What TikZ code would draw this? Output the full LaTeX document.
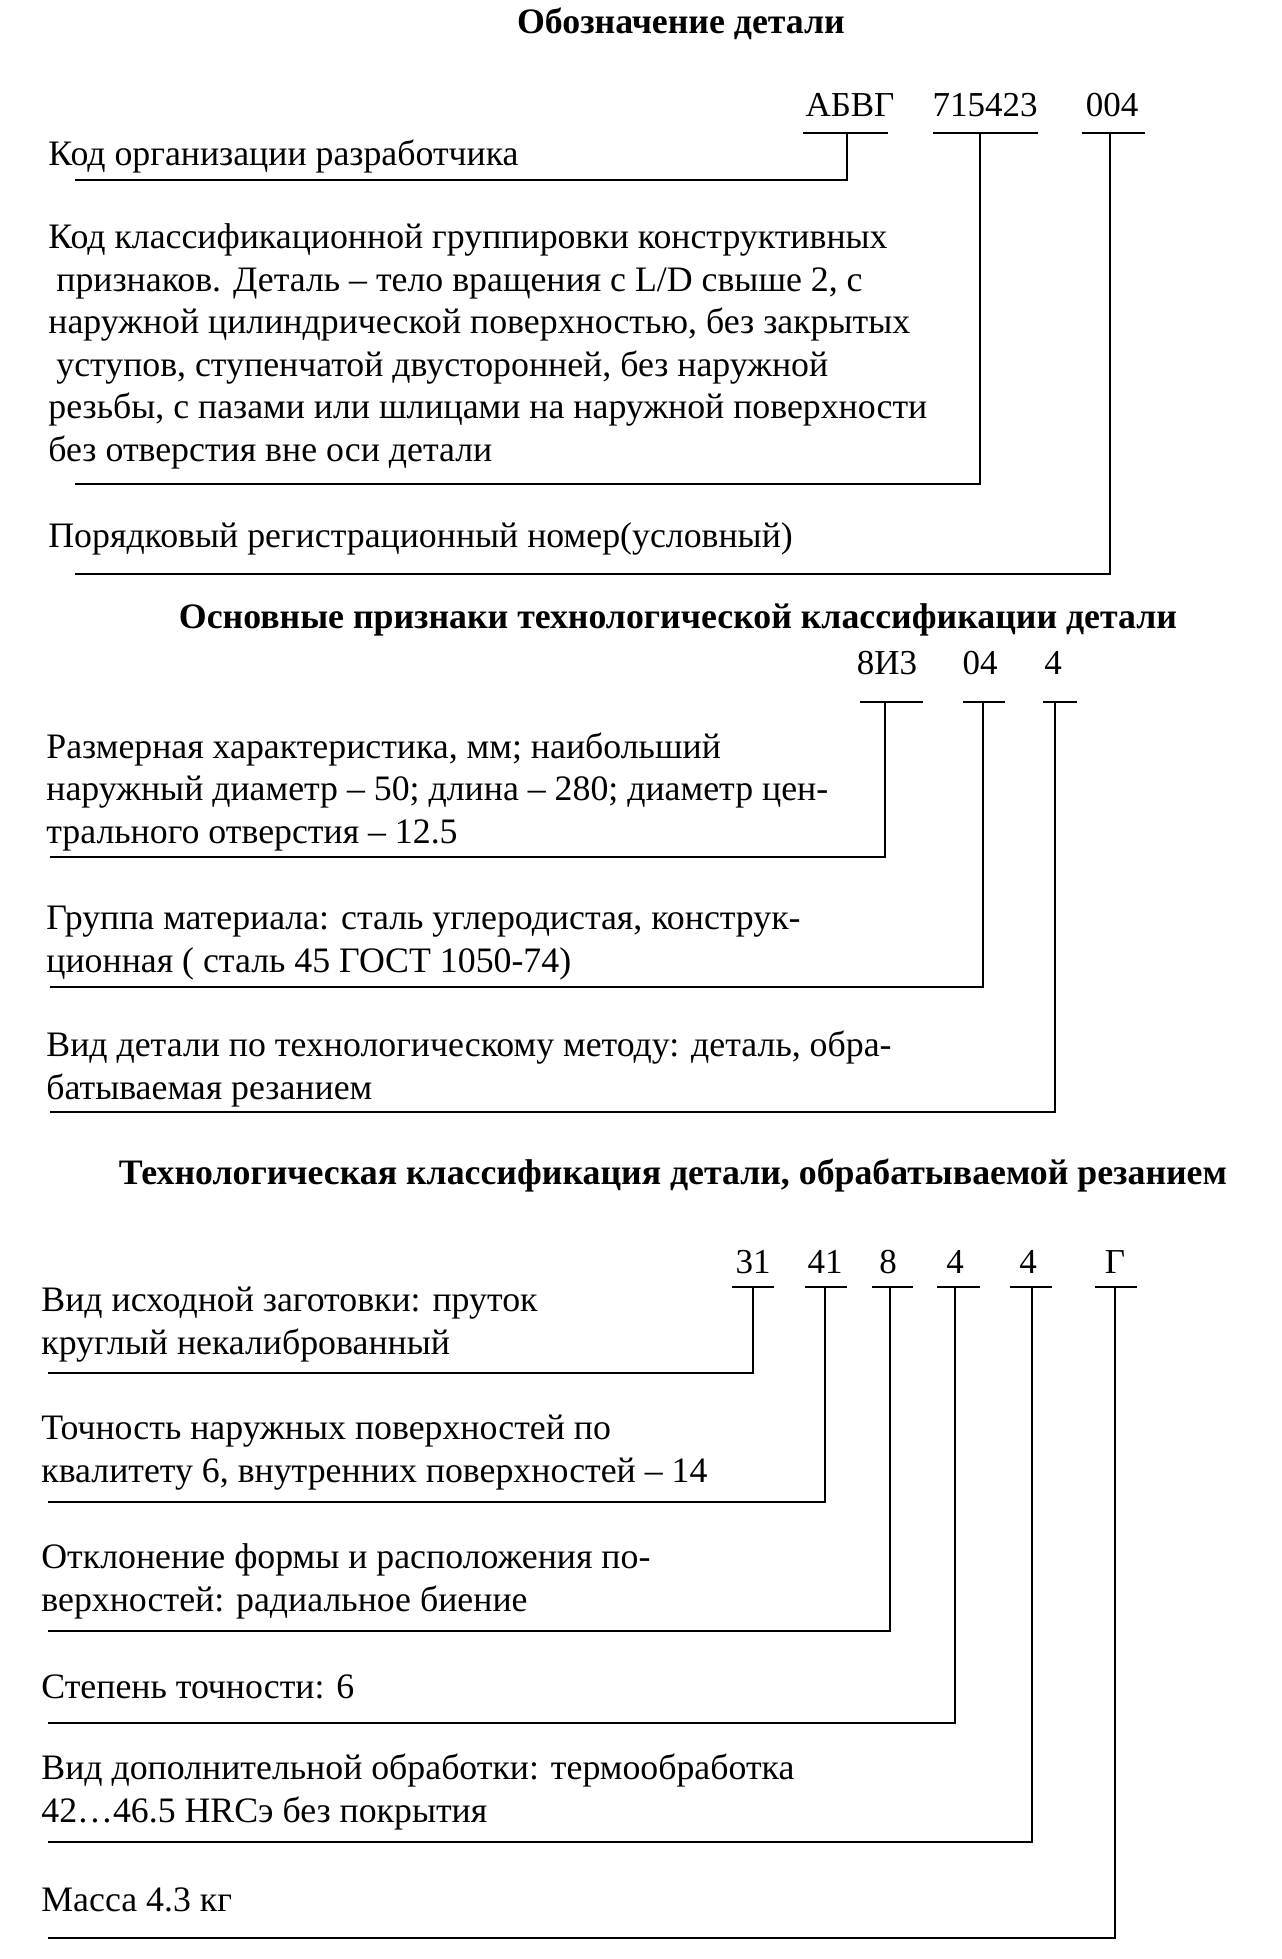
\documentclass[tikz,border=0pt]{standalone}
\usepackage{fontspec}
\setmainfont{Liberation Serif}
\usetikzlibrary{calc}

\tikzset{
  txt/.style={anchor=base west, align=left, inner sep=0pt, font=\fontsize{17.9}{21.25}\selectfont},
  head/.style={anchor=base, inner sep=0pt, font=\fontsize{17.9}{21.25}\selectfont\bfseries},
  code/.style={anchor=base, inner sep=0pt, font=\fontsize{17.5}{21.25}\selectfont},
  lead/.style={line width=1.1pt},
}

\begin{document}
\begin{tikzpicture}[x=0.5pt, y=-0.5pt]
  \fill[white] (0,0) rectangle (1281,1959);
  \useasboundingbox (0,0) rectangle (1281,1959);

  % Designation of the part (text nodes sit on the baseline of their last line)
  \node[head] (h1) at (681,34) {Обозначение детали};
  \node[code] (a1) at (850,117) {АБВГ};
  \node[code] (a2) at (985,117) {715423};
  \node[code] (a3) at (1112,117) {004};
  \node[txt] (p1) at (48,165) {Код организации разработчика};
  \node[txt] (p2) at (48,461) {Код классификационной группировки конструктивных\\
    \hspace*{4pt}признаков. Деталь – тело вращения с L/D свыше 2, с\\
    наружной цилиндрической поверхностью, без закрытых\\
    \hspace*{4pt}уступов, ступенчатой двусторонней, без наружной\\
    резьбы, с пазами или шлицами на наружной поверхности\\
    без отверстия вне оси детали};
  \node[txt] (p3) at (48,547) {Порядковый регистрационный номер(условный)};
  \foreach \n/\x/\l/\r/\y in {1/847/803/888/180, 2/980/933/1038/484, 3/1110/1082/1145/574} {
    \coordinate (ta\n) at (\x,133);
    \coordinate (ea\n) at (75,\y);
    \draw[lead] (\l,133) -- (\r,133);
    \draw[lead] (ta\n) |- (ea\n);
  }

  % Main features of the technological classification
  \node[head] (h2) at (678,628) {Основные признаки технологической классификации детали};
  \node[code] (b1) at (887,674) {8И3};
  \node[code] (b2) at (980,674) {04};
  \node[code] (b3) at (1053,674) {4};
  \node[txt] (q1) at (46,843) {Размерная характеристика, мм; наибольший\\
    наружный диаметр – 50; длина – 280; диаметр цен-\\
    трального отверстия – 12.5};
  \node[txt] (q2) at (46,972) {Группа материала: сталь углеродистая, конструк-\\
    ционная ( сталь 45 ГОСТ 1050-74)};
  \node[txt] (q3) at (46,1099) {Вид детали по технологическому методу: деталь, обра-\\
    батываемая резанием};
  \foreach \n/\x/\l/\r/\y in {1/885/860/923/857, 2/983/963/1005/987, 3/1055/1043/1077/1112} {
    \coordinate (tb\n) at (\x,702);
    \coordinate (eb\n) at (50,\y);
    \draw[lead] (\l,702) -- (\r,702);
    \draw[lead] (tb\n) |- (eb\n);
  }

  % Classification of a part machined by cutting
  \node[head] (h3) at (673,1184) {Технологическая классификация детали, обрабатываемой резанием};
  \node[code] (c1) at (753,1273) {31};
  \node[code] (c2) at (825,1273) {41};
  \node[code] (c3) at (888,1273) {8};
  \node[code] (c4) at (955,1273) {4};
  \node[code] (c5) at (1028,1273) {4};
  \node[code] (c6) at (1115,1273) {Г};
  \node[txt] (r1) at (41,1354) {Вид исходной заготовки: пруток\\
    круглый некалиброванный};
  \node[txt] (r2) at (41,1482) {Точность наружных поверхностей по\\
    квалитету 6, внутренних поверхностей – 14};
  \node[txt] (r3) at (41,1611) {Отклонение формы и расположения по-\\
    верхностей: радиальное биение};
  \node[txt] (r4) at (41,1698) {Степень точности: 6};
  \node[txt] (r5) at (41,1822) {Вид дополнительной обработки: термообработка\\
    42…46.5 HRCэ без покрытия};
  \node[txt] (r6) at (41,1911) {Масса 4.3 кг};
  \foreach \n/\x/\l/\r/\y in {1/753/732/774/1373, 2/825/805/847/1502, 3/890/872/913/1631,
      4/955/937/980/1723, 5/1032/1010/1052/1842, 6/1115/1095/1137/1938} {
    \coordinate (tc\n) at (\x,1287);
    \coordinate (ec\n) at (48,\y);
    \draw[lead] (\l,1287) -- (\r,1287);
    \draw[lead] (tc\n) |- (ec\n);
  }
\end{tikzpicture}
\end{document}
